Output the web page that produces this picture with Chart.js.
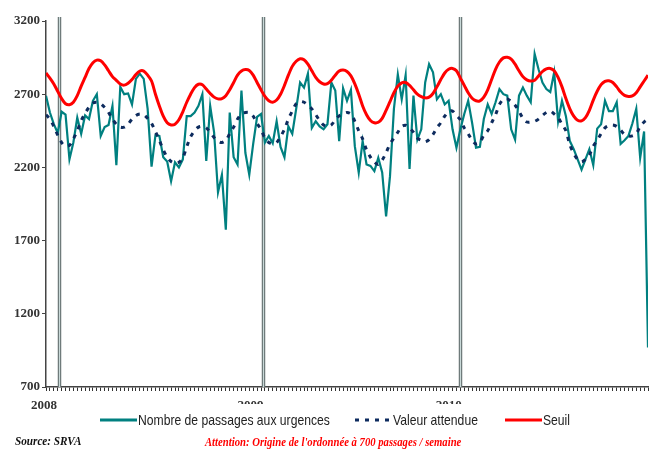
<!DOCTYPE html>
<html>
<head>
<meta charset="utf-8">
<script src="https://cdn.jsdelivr.net/npm/chart.js@4/dist/chart.umd.min.js"></script>
<style>
  html, body { margin: 0; padding: 0; background: #fff; }
  #wrap { width: 650px; height: 452px; }
</style>
</head>
<body>
<div id="wrap"><canvas id="urgences" width="650" height="452"></canvas></div>
<script>
// weekly counts, 2008 to 2010 (one value per week)
const passages = [
  2690, 2575, 2495, 2435, 2580, 2560, 2255, 2370, 2540, 2430,
  2555, 2530, 2655, 2700, 2415, 2475, 2490, 2620, 2215, 2750,
  2700, 2705, 2630, 2805, 2840, 2805, 2600, 2205, 2420, 2415,
  2270, 2240, 2105, 2235, 2200, 2255, 2550, 2550, 2575, 2620,
  2700, 2245, 2620, 2440, 2030, 2150, 1775, 2575, 2270, 2220,
  2725, 2300, 2150, 2360, 2545, 2565, 2370, 2415, 2365, 2515,
  2340, 2270, 2480, 2430, 2600, 2780, 2745, 2840, 2470, 2515,
  2480, 2460, 2495, 2780, 2725, 2380, 2740, 2655, 2730, 2345,
  2165, 2380, 2220, 2210, 2175, 2265, 2165, 1865, 2140, 2600,
  2835, 2665, 2830, 2190, 2690, 2390, 2460, 2780, 2905, 2850,
  2665, 2700, 2630, 2655, 2460, 2335, 2460, 2565, 2655, 2505,
  2335, 2340, 2530, 2630, 2565, 2645, 2735, 2700, 2690, 2460,
  2390, 2690, 2745, 2690, 2645, 2975, 2870, 2780, 2735, 2715,
  2850, 2515, 2655, 2550, 2380, 2325, 2255, 2185, 2255, 2325,
  2215, 2465, 2495, 2655, 2585, 2585, 2645, 2360, 2385, 2415,
  2500, 2600, 2265, 2445, 970
];

const attendue = [
  2560, 2530, 2480, 2420, 2370, 2345, 2350, 2395, 2450, 2520,
  2570, 2610, 2640, 2645, 2635, 2610, 2575, 2530, 2495, 2475,
  2475, 2495, 2530, 2555, 2565, 2560, 2535, 2500, 2445, 2385,
  2320, 2270, 2240, 2228, 2235, 2265, 2340, 2410, 2450, 2475,
  2480, 2470, 2440, 2405, 2380, 2370, 2385, 2430, 2475, 2530,
  2565, 2575, 2575, 2550, 2500, 2460, 2400, 2370, 2362, 2370,
  2410, 2460, 2530, 2585, 2635, 2650, 2645, 2625, 2600, 2560,
  2520, 2490, 2480, 2490, 2525, 2552, 2565, 2575, 2565, 2515,
  2450, 2395, 2320, 2270, 2235, 2220, 2250, 2300, 2360, 2400,
  2440, 2480, 2488, 2470, 2440, 2400, 2385, 2375, 2390, 2425,
  2470, 2505, 2550, 2580, 2585, 2555, 2525, 2470, 2430, 2385,
  2360, 2370, 2420, 2450, 2505, 2560, 2630, 2665, 2668, 2650,
  2625, 2585, 2535, 2510, 2510, 2515, 2530, 2555, 2575, 2585,
  2565, 2540, 2495, 2450, 2355, 2295, 2255, 2238, 2255, 2285,
  2345, 2385, 2430, 2470, 2485, 2490, 2480, 2455, 2425, 2415,
  2415, 2430, 2480, 2510, 2530
];

const seuil = [
  2845, 2810, 2770, 2720, 2670, 2635, 2628, 2645, 2690, 2755,
  2815, 2875, 2915, 2933, 2928, 2900, 2860, 2820, 2795, 2770,
  2762, 2775, 2800, 2835, 2858, 2858, 2830, 2790, 2700, 2620,
  2550, 2505, 2490, 2495, 2525, 2580, 2645, 2700, 2745, 2768,
  2765, 2735, 2705, 2680, 2668, 2670, 2690, 2730, 2780, 2830,
  2858, 2868, 2862, 2830, 2780, 2730, 2685, 2655, 2645, 2660,
  2700, 2760, 2830, 2890, 2925, 2942, 2935, 2905, 2860, 2815,
  2785, 2770, 2772, 2795, 2830, 2858, 2865, 2855, 2825, 2770,
  2700, 2620, 2560, 2520, 2505, 2508, 2535, 2590, 2650, 2710,
  2755, 2778, 2780, 2760, 2730, 2700, 2683, 2675, 2680, 2705,
  2750, 2800, 2845, 2870, 2876, 2860, 2810, 2760, 2710, 2672,
  2655, 2655, 2680, 2730, 2800, 2870, 2920, 2948, 2952, 2940,
  2905, 2860, 2820, 2798, 2790, 2795, 2825, 2855, 2873, 2876,
  2860, 2815, 2750, 2670, 2600, 2550, 2522, 2518, 2540, 2590,
  2660, 2720, 2765, 2788, 2792, 2780, 2750, 2715, 2692, 2685,
  2688, 2710, 2750, 2790, 2830
];

const yTicks = [700, 1200, 1700, 2200, 2700, 3200];
const yearLabels = ["2008", "2009", "2010"];
const yearWeeks = [-0.5, 52.3, 103];
const markerWeeks = [3.3, 55.5, 105.8];

const legendItems = [
  { text: "Nombre de passages aux urgences", color: "#008080", dash: [], x: 100 },
  { text: "Valeur attendue", color: "#0d2b5e", dash: [4, 6], x: 355 },
  { text: "Seuil", color: "#ff0000", dash: [], x: 505 }
];

const asPoints = arr => arr.map((v, i) => ({ x: i, y: v }));

// narrow text: draw with a horizontal squeeze
function squeezed(ctx, text, x, y, sx) {
  ctx.save();
  ctx.translate(x, y);
  ctx.scale(sx, 1);
  ctx.fillText(text, 0, 0);
  ctx.restore();
}

// grey double rules at the start of each year
const yearMarkers = {
  id: "yearMarkers",
  beforeDatasetsDraw(chart) {
    const { ctx, chartArea, scales } = chart;
    ctx.save();
    markerWeeks.forEach(w => {
      const x = Math.round(scales.x.getPixelForValue(w)) + 0.5;
      ctx.strokeStyle = "#6f7b7b";
      ctx.lineWidth = 3.5;
      ctx.beginPath();
      ctx.moveTo(x, chartArea.top - 4);
      ctx.lineTo(x, chartArea.bottom);
      ctx.stroke();
      ctx.strokeStyle = "#c9d9d8";
      ctx.lineWidth = 1;
      ctx.beginPath();
      ctx.moveTo(x, chartArea.top - 4);
      ctx.lineTo(x, chartArea.bottom);
      ctx.stroke();
    });
    ctx.restore();
  }
};

// year labels, legend row and footer notes
const footer = {
  id: "footer",
  afterDraw(chart) {
    const { ctx, scales } = chart;
    ctx.save();
    ctx.fillStyle = "#333";
    ctx.font = "bold 13px 'Liberation Serif'";
    ctx.textAlign = "center";
    ctx.textBaseline = "middle";
    yearLabels.forEach((t, i) => {
      const x = scales.x.getPixelForValue(yearWeeks[i]);
      ctx.save();
      if (i > 0) {
        ctx.beginPath();
        ctx.rect(x - 20, 390, 40, 14);
        ctx.clip();
      }
      ctx.fillText(t, x, 406);
      ctx.restore();
    });

    const ly = 420;
    ctx.textAlign = "left";
    ctx.font = "15px 'Liberation Sans', sans-serif";
    legendItems.forEach(it => {
      ctx.strokeStyle = it.color;
      ctx.lineWidth = 3;
      ctx.setLineDash(it.dash);
      ctx.beginPath();
      ctx.moveTo(it.x, ly);
      ctx.lineTo(it.x + 37, ly);
      ctx.stroke();
      ctx.setLineDash([]);
      ctx.fillStyle = "#222";
      squeezed(ctx, it.text, it.x + 38, ly + 1, 0.81);
    });

    ctx.fillStyle = "#111";
    ctx.font = "bold italic 13px 'Liberation Serif'";
    squeezed(ctx, "Source: SRVA", 15, 442, 0.86);

    ctx.fillStyle = "#ff0000";
    ctx.font = "bold italic 12px 'Liberation Serif'";
    squeezed(ctx, "Attention: Origine de l'ordonn\u00e9e \u00e0 700 passages / semaine", 205, 443, 0.89);
    ctx.restore();
  }
};

new Chart(document.getElementById("urgences"), {
  type: "line",
  data: {
    datasets: [
      {
        label: "Nombre de passages aux urgences",
        data: asPoints(passages),
        borderColor: "#008080",
        borderWidth: 2.2,
        pointRadius: 0,
        tension: 0,
        order: 2
      },
      {
        label: "Valeur attendue",
        data: asPoints(attendue),
        borderColor: "#0d2b5e",
        borderWidth: 3,
        borderDash: [4, 6],
        pointRadius: 0,
        tension: 0.3,
        order: 1
      },
      {
        label: "Seuil",
        data: asPoints(seuil),
        borderColor: "#ff0000",
        borderWidth: 3,
        pointRadius: 0,
        tension: 0.3,
        order: 0
      }
    ]
  },
  options: {
    responsive: false,
    animation: false,
    devicePixelRatio: 1,
    layout: { padding: { top: 21, right: 2, bottom: 0, left: 0 } },
    plugins: {
      legend: { display: false },
      tooltip: { enabled: false }
    },
    scales: {
      x: {
        type: "linear",
        min: 0,
        max: passages.length - 1,
        ticks: { display: false, stepSize: 1, autoSkip: false, maxTicksLimit: 1000 },
        grid: { drawOnChartArea: false, drawTicks: true, tickLength: 4, tickWidth: 1, color: "#333" },
        border: { color: "#444", width: 1.5 },
        afterFit: s => { s.height = 65; }
      },
      y: {
        min: yTicks[0],
        max: yTicks[yTicks.length - 1],
        afterBuildTicks: s => { s.ticks = yTicks.map(v => ({ value: v })); },
        ticks: {
          color: "#333",
          padding: 2,
          callback: v => String(v),
          font: { family: "'Liberation Serif'", size: 13, weight: "bold" }
        },
        grid: { drawOnChartArea: false, drawTicks: true, tickLength: 4, color: "#444" },
        border: { color: "#444", width: 1.5 },
        afterFit: s => { s.width = 46; }
      }
    }
  },
  plugins: [yearMarkers, footer]
});
</script>
</body>
</html>
